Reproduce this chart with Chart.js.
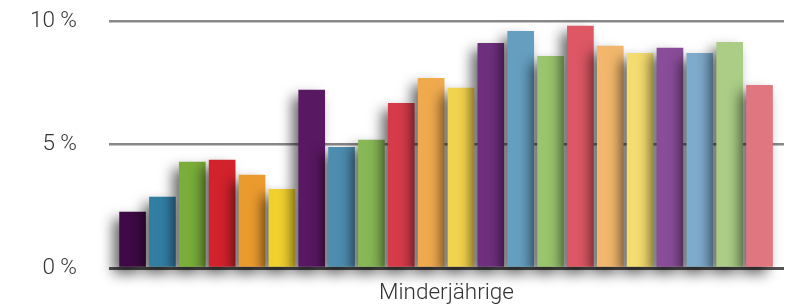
<!DOCTYPE html>
<html>
<head>
<meta charset="utf-8">
<script src="https://cdn.jsdelivr.net/npm/chart.js@4"></script>
<style>
  html, body { margin: 0; padding: 0; background: #fff; }
  #wrap { width: 791px; height: 307px; }
</style>
</head>
<body>
<div id="wrap"><canvas id="chart" width="791" height="307"></canvas></div>
<script>
// gruppe og værdier (procent)
const group = 'Minderjährige'
const values = [2.26, 2.87, 4.29, 4.37, 3.76, 3.19, 7.20, 4.89, 5.18, 6.67, 7.68,
                7.28, 9.10, 9.58, 8.57, 9.79, 8.98, 8.69, 8.90, 8.69, 9.14, 7.40]
const colors = ['#3e0a45', '#327ea3', '#7aad3a', '#d2222b', '#eb9b2e', '#f0cf2e',
                '#581862', '#4e8db0', '#88b855', '#d63b4a', '#efaa4e', '#f2d34f',
                '#6e2f7d', '#659fbf', '#9bc46e', '#dd5764', '#f2b76c', '#f4dc70',
                '#8a4d99', '#7eaacb', '#abcd86', '#e07680']
const yTicks = [0, 5, 10]

const font = { family: 'Roboto, "Liberation Sans", sans-serif', size: 22.5, weight: 300 }

// skygge bag søjlerne
const shadowPlugin = {
  id: 'barShadow',
  beforeDatasetsDraw(chart) {
    const ctx = chart.ctx
    ctx.save()
    ctx.shadowColor = 'rgba(0,0,0,0.6)'
    ctx.shadowBlur = 13
    ctx.shadowOffsetX = -6
    ctx.shadowOffsetY = 7
  },
  afterDatasetsDraw(chart) {
    chart.ctx.restore()
  }
}

const points = values.map((v, i) => ({ x: i, y: v }))

new Chart(document.getElementById('chart'), {
  type: 'bar',
  data: {
    datasets: [{
      label: group,
      data: points,
      backgroundColor: colors,
      borderWidth: 0,
      barThickness: 26,
      clip: false
    }]
  },
  options: {
    responsive: false,
    animation: false,
    layout: { padding: { top: 21, right: 7, bottom: 0, left: 0 } },
    plugins: {
      legend: { display: false },
      tooltip: { enabled: false }
    },
    scales: {
      x: {
        type: 'linear',
        offset: false,
        min: -0.79,
        max: 21.82,
        grid: { display: false },
        border: { display: false },
        ticks: { display: false },
        title: {
          display: true,
          text: group,
          color: '#333',
          font: font,
          padding: { top: 10, bottom: 0 }
        },
        afterFit(scale) { scale.height = 39 }
      },
      y: {
        min: 0,
        max: 10,
        border: { display: false },
        afterBuildTicks(scale) { scale.ticks = yTicks.map(v => ({ value: v })) },
        afterFit(scale) { scale.width = 109 },
        grid: {
          color: c => c.tick.value === 0 ? '#555' : '#888',
          lineWidth: c => c.tick.value === 0 ? 3 : 2.5,
          tickLength: 30,
          tickColor: 'rgba(0,0,0,0)'
        },
        ticks: {
          color: '#333',
          font: font,
          padding: 2,
          callback: v => v + ' %'
        }
      }
    }
  },
  plugins: [shadowPlugin]
})
</script>
</body>
</html>
